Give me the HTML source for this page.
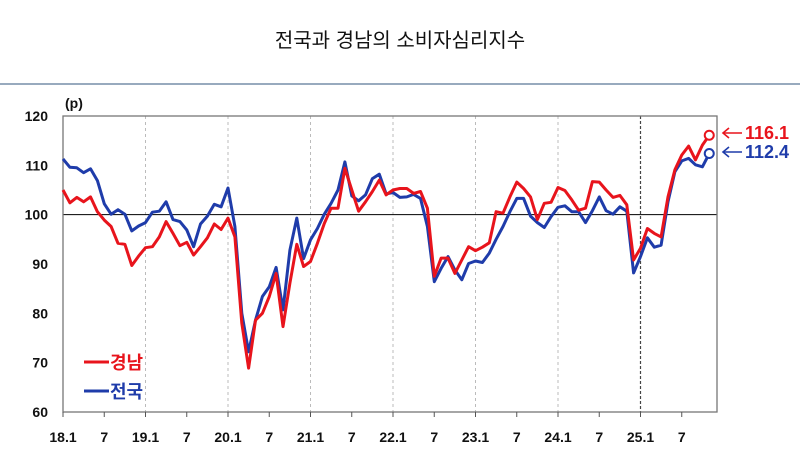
<!DOCTYPE html>
<html><head><meta charset="utf-8"><style>
body{margin:0;background:#fff;}
svg{display:block;font-family:"Liberation Sans","Noto Sans CJK KR",sans-serif;}
</style></head><body>
<svg id="c" width="800" height="463" viewBox="0 0 800 463"></svg>
<script>
const blue=[111.3,109.6,109.5,108.5,109.3,106.9,102.2,100.1,101,100.1,96.7,97.7,98.4,100.5,100.7,102.6,99,98.6,96.9,93.5,98.1,99.7,102.1,101.6,105.4,97.6,80,72.2,78.6,83.4,85.4,89.3,80.7,92.8,99.3,91.1,94.9,97.2,100.1,102.3,105,110.7,103.8,102.8,104,107.3,108.2,104.2,104.5,103.5,103.6,104.1,103.3,97.6,86.4,89.1,91.5,88.8,86.8,90.1,90.6,90.3,92.2,95,97.6,100.6,103.3,103.3,99.7,98.4,97.4,99.6,101.5,101.8,100.6,100.6,98.4,100.8,103.6,100.8,100.1,101.6,100.7,88.2,91.5,95.3,93.4,93.8,102.6,108.7,110.9,111.4,110.1,109.7,112.4];
const red=[105,102.4,103.5,102.6,103.6,100.6,98.9,97.6,94.2,94,89.7,91.6,93.3,93.5,95.5,98.6,96.2,93.7,94.4,91.8,93.5,95.3,98.1,97,99.3,95.5,78,68.9,78.6,80,83.4,88.1,77.3,86.1,94,89.5,90.5,94.2,98.2,101.3,101.3,109.4,105,100.7,102.6,104.7,107,104,105,105.3,105.3,104.3,104.7,101.3,87.5,91.2,91.2,88.1,90.8,93.5,92.7,93.4,94.3,100.6,100.3,103.6,106.6,105.3,103.6,99,102.3,102.5,105.5,104.9,103,100.9,101.3,106.7,106.6,105,103.5,103.9,102,90.8,93.2,97.2,96.2,95.5,103.6,109.1,112.1,113.9,111.1,114.1,116.1];
const X=m=>63+m*6.875, Y=v=>116+(120-v)*4.933;
let s='';
s+='<text x="400" y="47" text-anchor="middle" font-size="20" fill="#111">전국과 경남의 소비자심리지수</text>';
s+='<line x1="0" y1="84" x2="800" y2="84" stroke="#5a7896" stroke-width="1.2"/>';
for(let k=1;k<=6;k++){const x=X(k*12);s+=`<line x1="${x}" y1="116" x2="${x}" y2="412" stroke="#bbb" stroke-dasharray="3,3"/>`;}
s+=`<line x1="${X(84)}" y1="116" x2="${X(84)}" y2="412" stroke="#444" stroke-dasharray="3,2" stroke-width="1.2"/>`;
s+=`<line x1="63" y1="${Y(100)}" x2="717" y2="${Y(100)}" stroke="#000" stroke-width="1"/>`;
s+='<rect x="63" y="116" width="654" height="296" fill="none" stroke="#777" stroke-width="1.3"/>';
for(let v=60;v<=120;v+=10){s+=`<text x="48" y="${Y(v)+5}" text-anchor="end" font-size="14" font-weight="bold" fill="#111">${v}</text>`;}
s+='<text x="65" y="108" font-size="14" font-weight="bold" fill="#111">(p)</text>';
const labs=['18.1','7','19.1','7','20.1','7','21.1','7','22.1','7','23.1','7','24.1','7','25.1','7'];
labs.forEach((l,i)=>{const x=X(i*6);s+=`<line x1="${x}" y1="412" x2="${x}" y2="417" stroke="#555"/>`;s+=`<text x="${x}" y="442" text-anchor="middle" font-size="14" font-weight="bold" fill="#111">${l}</text>`;});
const path=(d,c)=>'<polyline fill="none" stroke="'+c+'" stroke-width="3" stroke-linejoin="round" points="'+d.map((v,i)=>X(i).toFixed(1)+','+Y(v).toFixed(1)).join(' ')+'"/>';
s+=path(blue,'#1f3caa');
s+=path(red,'#e8141c');
s+=`<circle cx="${X(94)}" cy="${Y(116.1)}" r="4.5" fill="#fff" stroke="#e8141c" stroke-width="2"/>`;
s+=`<circle cx="${X(94)}" cy="${Y(112.4)}" r="4.5" fill="#fff" stroke="#1f3caa" stroke-width="2"/>`;
const arr=(y,c)=>`<line x1="723" y1="${y}" x2="742" y2="${y}" stroke="${c}" stroke-width="1.6"/><polyline points="729,${y-5} 723,${y} 729,${y+5}" fill="none" stroke="${c}" stroke-width="1.6"/>`;
s+=arr(133,'#e8141c')+arr(152,'#1f3caa');
s+='<text x="745" y="139" font-size="18" font-weight="bold" fill="#e8141c">116.1</text>';
s+='<text x="745" y="158" font-size="18" font-weight="bold" fill="#1f3caa">112.4</text>';
s+='<line x1="84" y1="362" x2="109" y2="362" stroke="#e8141c" stroke-width="3"/><text x="110" y="369" font-size="18" font-weight="bold" fill="#e8141c">경남</text>';
s+='<line x1="84" y1="391" x2="109" y2="391" stroke="#1f3caa" stroke-width="3"/><text x="110" y="398" font-size="18" font-weight="bold" fill="#1f3caa">전국</text>';
document.getElementById('c').innerHTML=s;
</script>
</body></html>
